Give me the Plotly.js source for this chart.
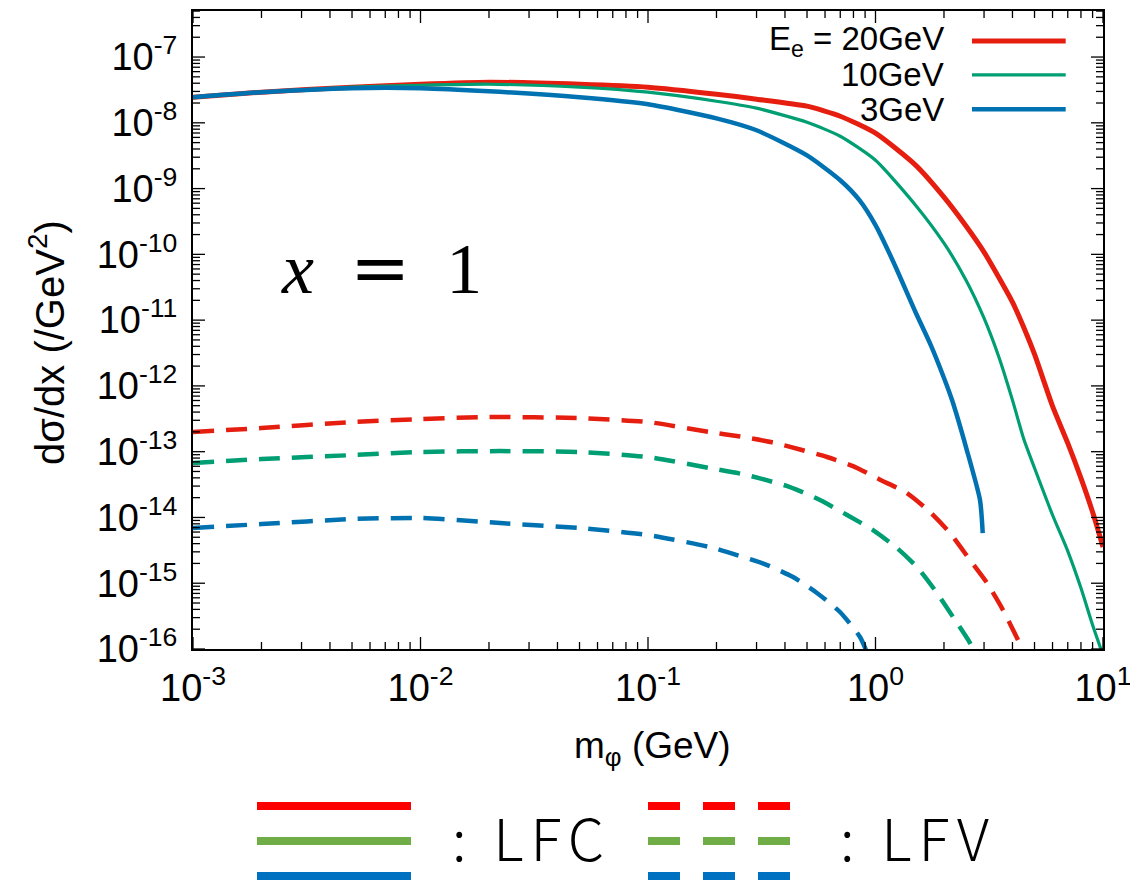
<!DOCTYPE html>
<html><head><meta charset="utf-8">
<script src="https://cdn.plot.ly/plotly-3.0.1.min.js"></script>
<style>html,body{margin:0;padding:0;background:#fff}</style>
</head><body><div id="chart" style="width:1130px;height:880px"></div>
<script>
// ---- data ----
const mLFC20 = [0.001,0.002,0.005,0.01,0.02,0.05,0.1,0.2,0.3,0.5,0.7,1,1.5,2,2.5,3,3.5,4,4.5,5,6,7,8,9,10];
const lfc20 = [2.45e-8,2.92e-8,3.48e-8,3.86e-8,4.14e-8,3.86e-8,3.48e-8,2.72e-8,2.29e-8,1.79e-8,1.26e-8,6.95e-9,2.27e-9,7.4e-10,2.69e-10,1.08e-10,4.34e-11,1.88e-11,7.55e-12,3.04e-12,4.93e-13,1.35e-13,3.97e-14,1.21e-14,3.55e-15];
const mLFC10 = [0.001,0.002,0.005,0.01,0.02,0.05,0.1,0.2,0.3,0.5,0.7,1,1.5,2,2.5,3,3.5,4,4.5,5,6,7,8,9,10];
const lfc10 = [2.45e-8,2.92e-8,3.48e-8,3.72e-8,3.86e-8,3.48e-8,2.92e-8,2.13e-8,1.67e-8,1.02e-8,6.25e-9,2.7e-9,5.6e-10,1.48e-10,4.05e-11,1.07e-11,2.64e-12,6.08e-13,1.5e-13,5.64e-14,1.09e-14,3.08e-15,8.45e-16,2.32e-16,8.1e-17];
const mLFC3 = [0.001,0.002,0.005,0.01,0.02,0.05,0.1,0.2,0.3,0.5,0.7,0.85,1,1.2,1.5,1.75,2,2.17,2.52,2.88,2.96];
const lfc3 = [2.45e-8,2.92e-8,3.36e-8,3.36e-8,3.02e-8,2.45e-8,1.92e-8,1.17e-8,7.7e-9,3.2e-9,1.34e-9,6.67e-10,2.78e-10,7.6e-11,1.32e-11,4.17e-12,1.32e-12,6.1e-13,1.06e-13,1.84e-14,5.8e-15];

const mLFV20 = [0.001,0.002,0.005,0.01,0.02,0.05,0.1,0.187,0.262,0.354,0.466,0.612,0.797,1.047,1.375,1.736,2.126,2.603,3.091,3.635,4.231,4.54];
const lfv20 = [1.99e-13,2.29e-13,2.82e-13,3.13e-13,3.36e-13,3.24e-13,2.82e-13,1.99e-13,1.67e-13,1.38e-13,1.08e-13,8.3e-14,6.04e-14,3.75e-14,2.35e-14,1.21e-14,5.79e-15,2.25e-15,1.01e-15,3.91e-16,1.37e-16,8.1e-17];
const mLFV10 = [0.001,0.002,0.005,0.01,0.0224,0.05,0.1,0.187,0.272,0.421,0.570,0.750,0.975,1.243,1.522,1.864,2.192,2.603,2.737];
const lfv10 = [6.71e-14,7.73e-14,8.87e-14,9.9e-14,1.02e-13,9.9e-14,8.28e-14,5.63e-14,4.41e-14,2.9e-14,1.84e-14,1.09e-14,6.43e-15,3.43e-15,1.76e-15,7.1e-16,3.06e-16,1.23e-16,8.1e-17];
const mLFV3 = [0.001,0.002,0.005,0.01,0.0224,0.05,0.1,0.187,0.246,0.334,0.434,0.553,0.698,0.855,0.927];
const lfv3 = [6.9e-15,7.94e-15,9.46e-15,9.8e-15,8.22e-15,6.9e-15,5.41e-15,3.55e-15,2.68e-15,1.89e-15,1.24e-15,7.1e-16,3.65e-16,1.52e-16,8.1e-17];

const xTickVals = [1e-3,1e-2,1e-1,1,10];
const xTickText = ['10<sup>-3</sup>','10<sup>-2</sup>','10<sup>-1</sup>','10<sup>0</sup>','10<sup>1</sup>'];
const yTickVals = [1e-16,1e-15,1e-14,1e-13,1e-12,1e-11,1e-10,1e-9,1e-8,1e-7];
const yTickText = ['10<sup>-16</sup>','10<sup>-15</sup>','10<sup>-14</sup>','10<sup>-13</sup>','10<sup>-12</sup>','10<sup>-11</sup>','10<sup>-10</sup>','10<sup>-9</sup>','10<sup>-8</sup>','10<sup>-7</sup>'];
const seriesNames = ['E<sub>e</sub> = 20GeV','10GeV','3GeV'];

// ---- styling ----
const RED = '#e51e10', GREEN = '#009e73', BLUE = '#0072b2';
const X_RANGE = [-3, 1], Y_RANGE = [-16, -6.3];
const PLOT_W = 910, PLOT_H = 638;
function minorVals(lo, hi){ const v=[]; for(let e=lo;e<hi;e++){ for(let k=2;k<=9;k++){ v.push(k*Math.pow(10,e)); } } return v; }

const mk = (x,y,color,width,dash) => ({type:'scatter', mode:'lines', x:x, y:y, showlegend:false, hoverinfo:'skip',
  line:{color:color, width:width, dash:dash||'solid', shape:'spline', smoothing:0.6}});
const traces = [
  mk(mLFC20, lfc20, RED, 5),
  mk(mLFC10, lfc10, GREEN, 3.2),
  mk(mLFC3, lfc3, BLUE, 4.5),
  mk(mLFV20, lfv20, RED, 4.5, '21px,12px'),
  mk(mLFV10, lfv10, GREEN, 4.5, '21px,12px'),
  mk(mLFV3, lfv3, BLUE, 4.5, '21px,12px')
];

const FONT = 'Liberation Sans, Arial, Helvetica, sans-serif';
const axisCommon = {
  type:'log', showline:true, linecolor:'#000', linewidth:2, mirror:true,
  ticks:'', showgrid:false, zeroline:false,
  tickmode:'array', tickfont:{family:FONT, size:38, color:'#000'}, ticklabeloverflow:'allow'
};

const annotations = [];
const shapes = [];

// tick marks on all four sides (inside); positions follow the log axis ranges
const TICKW = 1.3;
function addXTicks(vals, len){
  const h = len / PLOT_H;
  vals.forEach(v=>{
    const f = (Math.log10(v) - X_RANGE[0]) / (X_RANGE[1] - X_RANGE[0]);
    if (f < -1e-9 || f > 1+1e-9) return;
    shapes.push({type:'line', xref:'paper', yref:'paper', x0:f, x1:f, y0:0, y1:h, line:{color:'#000', width:TICKW}});
    shapes.push({type:'line', xref:'paper', yref:'paper', x0:f, x1:f, y0:1, y1:1-h, line:{color:'#000', width:TICKW}});
  });
}
function addYTicks(vals, len){
  const w = len / PLOT_W;
  vals.forEach(v=>{
    const f = (Math.log10(v) - Y_RANGE[0]) / (Y_RANGE[1] - Y_RANGE[0]);
    if (f < -1e-9 || f > 1+1e-9) return;
    shapes.push({type:'line', xref:'paper', yref:'paper', y0:f, y1:f, x0:0, x1:w, line:{color:'#000', width:TICKW}});
    shapes.push({type:'line', xref:'paper', yref:'paper', y0:f, y1:f, x0:1, x1:1-w, line:{color:'#000', width:TICKW}});
  });
}
addXTicks(xTickVals, 12); addXTicks(minorVals(-3,1), 7);
addYTicks(yTickVals, 12); addYTicks(minorVals(-16,-6), 7);

const legRowsY = [0.953, 0.900, 0.846];
const legColors = [RED, GREEN, BLUE];
const legWidths = [5, 3.2, 4.5];
seriesNames.forEach((s,i)=>{
  annotations.push({xref:'paper', yref:'paper', x:0.827, y:legRowsY[i], xanchor:'right', yanchor:'middle', showarrow:false, text:s, font:{family:FONT, size:33, color:'#000'}});
  shapes.push({type:'line', xref:'paper', yref:'paper', x0:0.856, x1:0.959, y0:legRowsY[i], y1:legRowsY[i], line:{color:legColors[i], width:legWidths[i]}});
});
annotations.push({xref:'paper', yref:'paper', x:0.2066, y:0.597, xanchor:'center', yanchor:'middle', showarrow:false,
  text:'<i>x</i>&nbsp;&nbsp;<span style="font-family:DejaVu Serif">=</span>&nbsp;&nbsp;1', font:{family:'Liberation Serif, DejaVu Serif, serif', size:72, color:'#000'}});
annotations.push({xref:'paper', yref:'paper', x:(47-193)/910, y:(649-343)/638, xanchor:'center', yanchor:'middle', showarrow:false, textangle:-90,
  text:'dσ/dx (/GeV<sup>2</sup>)', font:{family:FONT, size:40, color:'#000'}});
annotations.push({xref:'paper', yref:'paper', x:(652-193)/910, y:(649-748)/638, xanchor:'center', yanchor:'middle', showarrow:false,
  text:'m<sub>φ</sub> (GeV)', font:{family:FONT, size:37, color:'#000'}});

// bottom key
const keyColors = ['#ff0000','#70ad47','#0070c0'];
const keyRowsPx = [806, 841, 876];
keyRowsPx.forEach((py,i)=>{
  const yy = (649-py)/638;
  shapes.push({type:'line', xref:'paper', yref:'paper', x0:(257-193)/910, x1:(411-193)/910, y0:yy, y1:yy, line:{color:keyColors[i], width:8}});
  [[648,680],[703,735],[758,790]].forEach(d=>{
    shapes.push({type:'line', xref:'paper', yref:'paper', x0:(d[0]-193)/910, x1:(d[1]-193)/910, y0:yy, y1:yy, line:{color:keyColors[i], width:8}});
  });
});
const KFONT = 'Noto Sans CJK JP, Noto Sans, sans-serif';
annotations.push({xref:'paper', yref:'paper', x:(450-193)/910, y:(649-836)/638, xanchor:'left', yanchor:'middle', showarrow:false,
  text:'<span style="letter-spacing:7px">: LFC</span>', font:{family:KFONT, size:58, color:'#000', weight:300}});
annotations.push({xref:'paper', yref:'paper', x:(838-193)/910, y:(649-836)/638, xanchor:'left', yanchor:'middle', showarrow:false,
  text:'<span style="letter-spacing:7px">: LFV</span>', font:{family:KFONT, size:58, color:'#000', weight:300}});

const layout = {
  width:1130, height:880,
  margin:{l:193, r:27, t:11, b:231},
  paper_bgcolor:'#fff', plot_bgcolor:'#fff',
  showlegend:false,
  xaxis: Object.assign({}, axisCommon, {range:X_RANGE, tickvals:xTickVals, ticktext:xTickText, ticklabelstandoff:4}),
  yaxis: Object.assign({}, axisCommon, {range:Y_RANGE, tickvals:yTickVals, ticktext:yTickText, ticklabelstandoff:6}),
  annotations: annotations,
  shapes: shapes
};
Plotly.newPlot('chart', traces, layout, {displayModeBar:false, staticPlot:true});
</script>
</body></html>
